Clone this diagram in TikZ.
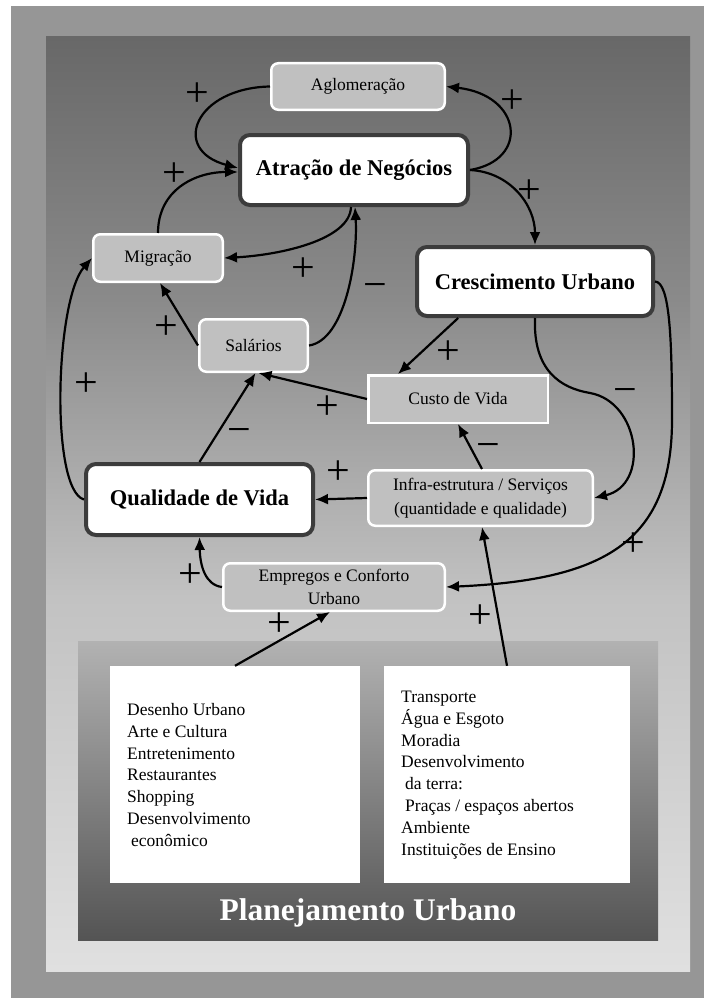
\documentclass[tikz,border=0pt]{standalone}
\usepackage{fontspec}
\setmainfont{Liberation Serif}
\usetikzlibrary{arrows.meta,calc}

\definecolor{framegray}{HTML}{969696}
\definecolor{nodegray}{HTML}{C0C0C0}
\definecolor{bordergray}{HTML}{3C3C3C}
\definecolor{ptop}{HTML}{686868}
\definecolor{pmidA}{HTML}{8A8A8A}
\definecolor{pmidB}{HTML}{C2C2C2}
\definecolor{pbot}{HTML}{E0E0E0}
\definecolor{plantop}{HTML}{B2B2B2}
\definecolor{planbot}{HTML}{545454}

% background gradient of the main panel (bottom to top)
\pgfdeclareverticalshading{panelshade}{100bp}{color(0bp)=(pbot); color(25bp)=(pbot); color(45bp)=(pmidB); color(61bp)=(pmidA); color(75bp)=(ptop); color(100bp)=(ptop)}

\tikzset{
  smallbox/.style={draw=white, line width=2.5pt, fill=nodegray, rounded corners=7pt,
    inner sep=0pt, align=center, font=\fontsize{17.5}{23.5}\selectfont},
  bigbox/.style={draw=bordergray, line width=4pt, fill=white, rounded corners=10pt,
    inner sep=0pt, font=\bfseries\fontsize{22.5}{27}\selectfont},
  listbox/.style={fill=white, draw=none, inner sep=0pt},
  listtext/.style={anchor=west, align=left, inner sep=0pt, font=\fontsize{17.5}{21.9}\selectfont},
  link/.style={line width=2.2pt, -{Latex[length=13pt,width=11pt]}},
  sign/.style={inner sep=0pt, text height=23pt, text depth=0pt, font=\fontsize{42}{42}\selectfont}
}

\begin{document}
\begin{tikzpicture}[x=1pt,y=-1pt]
\useasboundingbox (0,0) rectangle (704,998);
\fill[white] (0,0) rectangle (704,998);
\fill[framegray] (11,6) rectangle (704,998);
\shade[shading=panelshade] (46,37) rectangle (690,971);

% planning panel at the bottom
\shade[top color=plantop, bottom color=planbot] (78,641) rectangle (658,940);
\node[listbox, minimum width=250pt, minimum height=217pt] (lbox) at (235,774.5) {};
\node[listbox, minimum width=246pt, minimum height=217pt] (rbox) at (507,774.5) {};
\node[listtext] (ltext) at (127,775) {Desenho Urbano\\Arte e Cultura\\Entretenimento\\Restaurantes\\Shopping\\Desenvolvimento\\\hspace*{4pt}econômico};
\node[listtext] (rtext) at (401,775) {Transporte\\Água e Esgoto\\Moradia\\Desenvolvimento\\\hspace*{4pt}da terra:\\\hspace*{4pt}Praças / espaços abertos\\Ambiente\\Instituições de Ensino};
\node[text=white, inner sep=0pt, font=\bfseries\fontsize{31.5}{36}\selectfont] (plan) at (368,913) {Planejamento Urbano};

% causal loop nodes
\node[smallbox, minimum width=173.5pt, minimum height=46.5pt] (aglo) at (358,86.5) {Aglomeração};
\node[bigbox, minimum width=228pt, minimum height=70pt] (atr) at (354,170) {Atração de Negócios};
\node[bigbox, minimum width=236pt, minimum height=69pt] (cres) at (535,281.5) {Crescimento Urbano};
\node[smallbox, minimum width=129.5pt, minimum height=47.5pt] (mig) at (158,258) {Migração};
\node[smallbox, minimum width=108.5pt, minimum height=52.5pt] (sal) at (253.5,345.5) {Salários};
\node[smallbox, rounded corners=0pt, minimum width=179.5pt, minimum height=47.5pt] (custo) at (458,399) {Custo de Vida};
\node[smallbox, minimum width=224.5pt, minimum height=55.5pt] (infra) at (480.5,498) {Infra-estrutura / Serviços\\(quantidade e qualidade)};
\node[bigbox, minimum width=227pt, minimum height=71pt] (qual) at (199.5,499.5) {Qualidade de Vida};
\node[smallbox, font=\fontsize{17.5}{23}\selectfont, minimum width=221.5pt, minimum height=47.5pt] (emp) at (334,587) {Empregos e Conforto\\Urbano};

% connectors
\draw[link] (aglo.west) .. controls (195,88) and (170,150) .. ([yshift=2pt]atr.west);
\draw[link] (mig.north) .. controls (158,190) and (195,172) .. ([yshift=-2pt]atr.west);
\draw[link] ([xshift=-3pt]atr.south) .. controls (350,240) and (280,255) .. (mig.east);
\draw[link] (sal.east) .. controls (345,340) and (358,260) .. ([xshift=1pt]atr.south);
\draw[link] (atr.east) .. controls (530,160) and (522,95) .. (aglo.east);
\draw[link] (atr.east) .. controls (510,172) and (535,205) .. (cres.north);
\draw[link] ($(cres.south west)!0.18!(cres.south east)$) -- ($(custo.north west)!0.17!(custo.north east)$);
\draw[link] (cres.south) .. controls (533,370) and (560,388) .. (590,393)
  .. controls (640,402) and (650,485) .. (infra.east);
\draw[link] (cres.east) .. controls (670,282) and (672,340) .. (672,420)
  .. controls (672,545) and (600,580) .. (emp.east);
\draw[link] (custo.west) -- ([xshift=5pt]sal.south);
\draw[link] (qual.north) -- ([xshift=2pt]sal.south);
\draw[link] (sal.west) -- ([xshift=2pt]mig.south);
\draw[link] (qual.west) .. controls (50,490) and (55,300) .. (mig.west);
\draw[link] (infra.west) -- (qual.east);
\draw[link] ([xshift=1.5pt]infra.north) -- (custo.south);
\draw[link] (emp.west) .. controls (205,585) and (200,565) .. (qual.south);
\draw[link] (lbox.north) -- ([xshift=-4pt]emp.south);
\draw[link] (rbox.north) -- ([xshift=1.5pt]infra.south);

% polarity signs
\node[sign] (s1) at (197,95) {+};
\node[sign] (s2) at (512,102) {+};
\node[sign] (s3) at (174,175) {+};
\node[sign] (s4) at (529,192) {+};
\node[sign] (s5) at (303,270) {+};
\node[sign] (s6) at (375,287) {−};
\node[sign] (s7) at (166,328) {+};
\node[sign] (s8) at (86,385) {+};
\node[sign] (s9) at (448,353) {+};
\node[sign] (s10) at (625,392) {−};
\node[sign] (s11) at (327,408) {+};
\node[sign] (s12) at (239,432) {−};
\node[sign] (s13) at (488,447) {−};
\node[sign] (s14) at (338,473) {+};
\node[sign] (s15) at (633,545) {+};
\node[sign] (s16) at (190,576) {+};
\node[sign] (s17) at (480,617) {+};
\node[sign] (s18) at (279,625) {+};
\end{tikzpicture}
\end{document}
